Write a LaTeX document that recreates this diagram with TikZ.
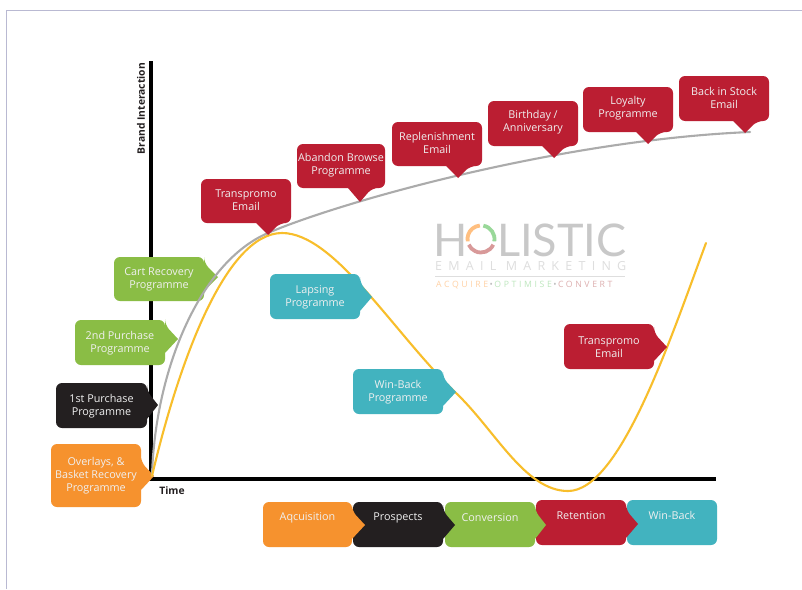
\documentclass[tikz,border=0pt]{standalone}
\usepackage{fontspec}
\setmainfont{Open Sans}
\newfontfamily\logofont{Lato}
\newfontfamily\logospaced[LetterSpace=50]{Open Sans}
\newfontfamily\logospacedb[LetterSpace=30]{Open Sans}
\definecolor{cred}{HTML}{BB1E32}
\definecolor{cgreen}{HTML}{8ABD45}
\definecolor{cteal}{HTML}{42B3BF}
\definecolor{corange}{HTML}{F6922E}
\definecolor{cblack}{HTML}{231F20}
\definecolor{cyellow}{HTML}{F8BE2B}
\definecolor{cgrey}{HTML}{ABABAB}
\definecolor{cframe}{HTML}{B9B9D2}
\definecolor{clogo}{HTML}{C8C8C8}
\tikzset{
  lbl/.style={text=white!94!black,font=\fontsize{10.8}{13}\selectfont,align=center,inner sep=0pt},
  axisline/.style={line width=3.4pt,black},
  curve/.style={line width=2.1pt,line cap=round},
  axlbl/.style={font=\bfseries\fontsize{10.3}{12}\selectfont,text=cblack,inner sep=0pt},
  logotext/.style={anchor=west,inner sep=0pt},
  ringarc/.style={line width=3.8pt},
}
% right-pointing callout outline: x0,y0,x1,y1,tipx,tipy,colour
\newcommand{\shapeR}[7]{%
  \pgfmathsetmacro{\ya}{#6-14}%
  \pgfmathsetmacro{\yb}{#6+14}%
  \fill[#7,rounded corners=6pt] (#1,#2) -- (#3,#2) -- (#3,\ya) [sharp corners]-- (#5,#6) -- (#3,\yb) [rounded corners=6pt]-- (#3,#4) -- (#1,#4) -- cycle;%
}
% right-pointing callout: name,x0,y0,x1,y1,tipx,tipy,colour,text
\newcommand{\callR}[9]{%
  \shapeR{#2}{#3}{#4}{#5}{#6}{#7}{#8}%
  \node[lbl] (#1) at ({(#2+#4)/2},{(#3+#5)/2+0.5}) {#9};%
}
% down-pointing callout
\newcommand{\callD}[9]{%
  \pgfmathsetmacro{\xa}{#6-12}%
  \pgfmathsetmacro{\xb}{#6+12}%
  \fill[#8,rounded corners=6pt] (#2,#3) -- (#4,#3) -- (#4,#5) -- (\xb,#5) [sharp corners]-- (#6,#7) -- (\xa,#5) [rounded corners=6pt]-- (#2,#5) -- cycle;
  \node[lbl] (#1) at ({(#2+#4)/2},{(#3+#5)/2-1}) {#9};%
}
% bottom chevron
\newcommand{\callB}[9]{%
  \shapeR{#2}{#3}{#4}{#5}{#6}{#7}{#8}%
  \node[lbl] (#1) at ({(#2+#4)/2},{#3+15.5}) {#9};%
}
\begin{document}
\begin{tikzpicture}[x=1pt,y=-1pt]
\useasboundingbox (0,0) rectangle (802,589);
\fill[white] (0,0) rectangle (802,589);
\draw[cframe,line width=1.1pt] (6.5,589) -- (6.5,10.5) -- (802,10.5);
% logo
\node[text=clogo,font=\logofont\fontsize{45}{45}\selectfont,logotext] (logoH) at (433,240) {H};
\node[text=clogo,font=\logofont\fontsize{45}{45}\selectfont,logotext] (logoL) at (497,240) {LISTIC};
\coordinate (ring) at (481,239);
\draw[ringarc,orange!50] ([shift={(170:13.5)}]ring) arc[start angle=170,end angle=265,radius=13.5];
\draw[ringarc,green!45!gray!55] ([shift={(280:13.5)}]ring) arc[start angle=280,end angle=370,radius=13.5];
\draw[ringarc,red!45!gray!55] ([shift={(25:13.5)}]ring) arc[start angle=25,end angle=155,radius=13.5];
\node[text=clogo!60,font=\logospaced\fontsize{12.5}{13}\selectfont,logotext] (logoE) at (435,266) {EMAIL MARKETING};
\draw[clogo!60,line width=.7pt] (435,276.5) -- (625,276.5);
\node[font=\logospacedb\fontsize{8.7}{9}\selectfont,logotext] (logoA) at (436,285) {\textcolor{orange!35}{ACQUIRE}\textcolor{gray!50}{\,•\,}\textcolor{green!45!gray!35}{OPTIMISE}\textcolor{gray!50}{\,•\,}\textcolor{red!40!gray!45}{CONVERT}};
% axes
\coordinate (org) at (151,479);
\coordinate (ytop) at (151,61);
\coordinate (xend) at (716,479);
\draw[axisline] (ytop) -- (org) -- (xend);
\node[axlbl,rotate=90] (ylab) at (141,108.5) {Brand Interaction};
\node[axlbl] (xlab) at (172,491) {Time};
% left callouts
\callR{c1}{114}{257}{204}{301}{218}{277}{cgreen}{Cart Recovery\\Programme}
\callR{c2}{75}{320}{165}{365}{178}{339}{cgreen}{2nd Purchase\\Programme}
\callR{c3}{56}{383}{147}{428}{158}{405}{cblack}{1st Purchase\\Programme}
\callR{c4}{51}{444}{141}{507}{154}{476}{corange}{Overlays, \&\\Basket Recovery\\Programme}
% curves
\draw[curve,cgrey] (152,476) .. controls (155,370) and (200,262) .. (268,233) .. controls (340,202) and (560,140) .. (750,132);
\draw[curve,cyellow] (152,476) .. controls (178,365) and (225,233) .. (282,233) .. controls (335,233) and (395,335) .. (456,393) .. controls (495,430) and (525,491) .. (568,491) .. controls (620,491) and (670,340) .. (706,243);
% red top callouts
\callD{t1}{201}{179}{291}{223}{268}{235}{cred}{Transpromo\\Email}
\callD{t2}{297}{144}{385}{188}{360}{202}{cred}{Abandon Browse\\Programme}
\callD{t3}{392}{122}{482}{166}{458}{178}{cred}{Replenishment\\Email}
\callD{t4}{488}{101}{578}{146}{554}{158}{cred}{Birthday /\\Anniversary}
\callD{t5}{583}{87}{673}{132}{648}{144}{cred}{Loyalty\\Programme}
\callD{t6}{679}{76}{769}{121}{745}{133}{cred}{Back in Stock\\Email}
% mid callouts
\callR{m1}{270}{274}{360}{319}{372}{297}{cteal}{Lapsing\\Programme}
\callR{m2}{353}{369}{443}{414}{456}{392}{cteal}{Win-Back\\Programme}
\callR{m3}{564}{324}{654}{369}{667}{347}{cred}{Transpromo\\Email}
% bottom chevrons
\fill[cteal,rounded corners=6pt] (627,500) rectangle (717,545);
\node[lbl] (b5) at (672,515.5) {Win-Back};
\callB{b4}{536}{500}{626}{545}{638}{524}{cred}{Retention}
\callB{b3}{445}{502}{535}{547}{546}{525}{cgreen}{Conversion}
\callB{b2}{353}{502}{443}{547}{455}{525}{cblack}{Prospects}
\callB{b1}{263}{502}{352}{547}{365}{525}{corange}{Aqcuisition}
\end{tikzpicture}
\end{document}
